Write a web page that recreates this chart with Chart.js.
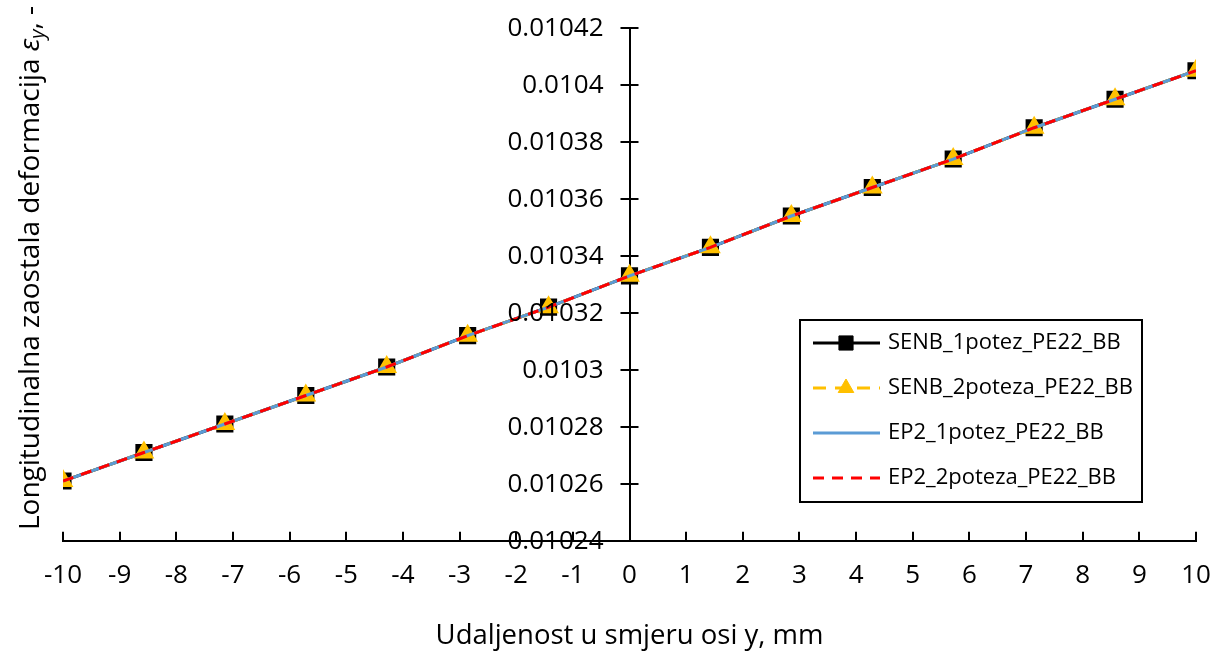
<!DOCTYPE html>
<html>
<head>
<meta charset="utf-8">
<script src="https://cdn.jsdelivr.net/npm/chart.js@4.4.1/dist/chart.umd.min.js"></script>
<style>
  html, body { margin: 0; padding: 0; background: #fff; }
  #wrap { width: 1221px; height: 653px; position: relative; }
</style>
</head>
<body>
<div id="wrap"><canvas id="chart"></canvas></div>
<script>
// distance along y axis, mm
const positions = [-10, -8.571, -7.143, -5.714, -4.286, -2.857, -1.429, 0, 1.429, 2.857, 4.286, 5.714, 7.143, 8.571, 10];

// residual longitudinal strain per series
const senb1 = [0.010261, 0.010271, 0.010281, 0.010291, 0.010301, 0.010312, 0.010322, 0.010333, 0.010343, 0.010354, 0.010364, 0.010374, 0.010385, 0.010395, 0.010405];
const senb2 = [0.010261, 0.010271, 0.010281, 0.010291, 0.010301, 0.010312, 0.010322, 0.010333, 0.010343, 0.010354, 0.010364, 0.010374, 0.010385, 0.010395, 0.010405];
const ep2_1 = [0.010261, 0.010271, 0.010281, 0.010291, 0.010301, 0.010312, 0.010322, 0.010333, 0.010343, 0.010354, 0.010364, 0.010374, 0.010385, 0.010395, 0.010405];
const ep2_2 = [0.010261, 0.010271, 0.010281, 0.010291, 0.010301, 0.010312, 0.010322, 0.010333, 0.010343, 0.010354, 0.010364, 0.010374, 0.010385, 0.010395, 0.010405];

const seriesNames = ["SENB_1potez_PE22_BB", "SENB_2poteza_PE22_BB", "EP2_1potez_PE22_BB", "EP2_2poteza_PE22_BB"];

const xTicks = [-10, -9, -8, -7, -6, -5, -4, -3, -2, -1, 0, 1, 2, 3, 4, 5, 6, 7, 8, 9, 10];
const yTicks = [0.01024, 0.01026, 0.01028, 0.0103, 0.01032, 0.01034, 0.01036, 0.01038, 0.0104, 0.01042];

const FONT = "'Open Sans', 'Liberation Sans', sans-serif";

function pts(values) {
    return positions.map((x, i) => ({ x: x, y: values[i] }));
}

function fmtY(v) {
    return parseFloat(Number(v).toPrecision(6)).toString();
}

// tick marks (x inward, y crossing) and y tick labels left of the centred axis
const tickMarks = {
    id: "tickMarks",
    afterDatasetsDraw(chart) {
        const ctx = chart.ctx;
        const xs = chart.scales.x, ys = chart.scales.y;
        const bottom = chart.chartArea.bottom;
        const x0 = xs.getPixelForValue(0);
        ctx.save();
        ctx.strokeStyle = "#000";
        ctx.lineWidth = 2;
        ctx.beginPath();
        xTicks.forEach(v => {
            const px = Math.round(xs.getPixelForValue(v));
            ctx.moveTo(px, bottom);
            ctx.lineTo(px, bottom - 9);
        });
        yTicks.forEach(v => {
            const py = Math.round(ys.getPixelForValue(v));
            ctx.moveTo(x0 - 9, py);
            ctx.lineTo(x0 + 9, py);
        });
        ctx.stroke();
        ctx.fillStyle = "#000";
        ctx.font = "26px " + FONT;
        ctx.textAlign = "right";
        ctx.textBaseline = "middle";
        yTicks.forEach(v => {
            ctx.fillText(fmtY(v), x0 - 26, ys.getPixelForValue(v) + 1);
        });
        ctx.restore();
    }
};

// rotated y title with italic epsilon and subscript
const yTitle = {
    id: "yTitle",
    afterDraw(chart) {
        const ctx = chart.ctx;
        ctx.save();
        ctx.translate(31, 268);
        ctx.rotate(-Math.PI / 2);
        ctx.fillStyle = "#000";
        ctx.textBaseline = "middle";
        const main = "Longitudinalna zaostala deformacija ";
        const f1 = "28px " + FONT, fi = "italic 28px " + FONT, fs = "italic 20px " + FONT;
        ctx.font = f1; const w1 = ctx.measureText(main).width;
        ctx.font = fi; const w2 = ctx.measureText("ε").width;
        ctx.font = fs; const w3 = ctx.measureText("y").width;
        ctx.font = f1; const w4 = ctx.measureText(", -").width;
        let x = -(w1 + w2 + w3 + w4) / 2;
        ctx.textAlign = "left";
        ctx.font = f1; ctx.fillText(main, x, 0); x += w1;
        ctx.font = fi; ctx.fillText("ε", x, 0); x += w2;
        ctx.font = fs; ctx.fillText("y", x, 7); x += w3;
        ctx.font = f1; ctx.fillText(", -", x, 0);
        ctx.restore();
    }
};

// boxed legend with line + marker samples
const boxLegend = {
    id: "boxLegend",
    afterDraw(chart) {
        const ctx = chart.ctx;
        const bx = 800, by = 320, bw = 342, bh = 182;
        ctx.save();
        ctx.fillStyle = "#fff";
        ctx.fillRect(bx, by, bw, bh);
        ctx.strokeStyle = "#000";
        ctx.lineWidth = 2;
        ctx.strokeRect(bx, by, bw, bh);
        chart.data.datasets.forEach((ds, i) => {
            const cy = by + 23 + i * 45;
            ctx.strokeStyle = ds.borderColor;
            ctx.lineWidth = ds.borderWidth;
            ctx.setLineDash(ds.borderDash || []);
            ctx.beginPath();
            ctx.moveTo(813, cy);
            ctx.lineTo(880, cy);
            ctx.stroke();
            ctx.setLineDash([]);
            if (ds.pointRadius > 0) {
                ctx.fillStyle = ds.pointBackgroundColor;
                ctx.strokeStyle = ds.pointBorderColor;
                ctx.lineWidth = 1;
                Chart.helpers.drawPoint(ctx, {
                    pointStyle: ds.pointStyle, radius: ds.pointRadius, rotation: 0, borderWidth: 1
                }, 846, cy);
            }
            ctx.fillStyle = "#000";
            ctx.font = "22px " + FONT;
            ctx.textAlign = "left";
            ctx.textBaseline = "middle";
            ctx.fillText(ds.label, 888, cy);
        });
        ctx.restore();
    }
};

new Chart(document.getElementById("chart"), {
    type: "line",
    data: {
        datasets: [
            {
                label: seriesNames[0], data: pts(senb1),
                borderColor: "#000000", borderWidth: 3,
                pointStyle: "rect", pointRadius: 10,
                pointBackgroundColor: "#000000", pointBorderColor: "#000000",
                order: 4
            },
            {
                label: seriesNames[1], data: pts(senb2),
                borderColor: "#FFC000", borderWidth: 3, borderDash: [13, 9],
                pointStyle: "triangle", pointRadius: 9,
                pointBackgroundColor: "#FFC000", pointBorderColor: "#FFC000",
                order: 3
            },
            {
                label: seriesNames[2], data: pts(ep2_1),
                borderColor: "#5B9BD5", borderWidth: 3,
                pointRadius: 0,
                order: 2
            },
            {
                label: seriesNames[3], data: pts(ep2_2),
                borderColor: "#FF0000", borderWidth: 3, borderDash: [11, 8],
                pointRadius: 0,
                order: 1
            }
        ]
    },
    options: {
        responsive: true,
        maintainAspectRatio: false,
        animation: false,
        events: [],
        layout: { padding: { left: 63, right: 25, top: 28, bottom: 0 } },
        plugins: {
            legend: { display: false },
            tooltip: { enabled: false }
        },
        scales: {
            x: {
                type: "linear",
                position: "bottom",
                min: -10, max: 10,
                afterBuildTicks: s => { s.ticks = xTicks.map(v => ({ value: v })); },
                afterFit: s => { s.paddingLeft = 0; s.paddingRight = 0; },
                grid: { display: false, drawTicks: false },
                border: { display: true, color: "#000", width: 2 },
                ticks: {
                    padding: 19,
                    color: "#000",
                    font: { family: FONT, size: 26 },
                    maxRotation: 0,
                    autoSkip: false
                },
                title: {
                    display: true,
                    text: "Udaljenost u smjeru osi y, mm",
                    color: "#000",
                    font: { family: FONT, size: 27.5 },
                    padding: { top: 10, bottom: 0 }
                }
            },
            y: {
                type: "linear",
                position: { x: 0 },
                min: 0.01024, max: 0.01042,
                afterBuildTicks: s => { s.ticks = yTicks.map(v => ({ value: v })); },
                afterFit: s => { s.paddingTop = 0; s.paddingBottom = 0; },
                grid: { display: false, drawTicks: false },
                border: { display: true, color: "#000", width: 2 },
                ticks: { display: false }
            }
        }
    },
    plugins: [tickMarks, yTitle, boxLegend]
});
</script>
</body>
</html>
